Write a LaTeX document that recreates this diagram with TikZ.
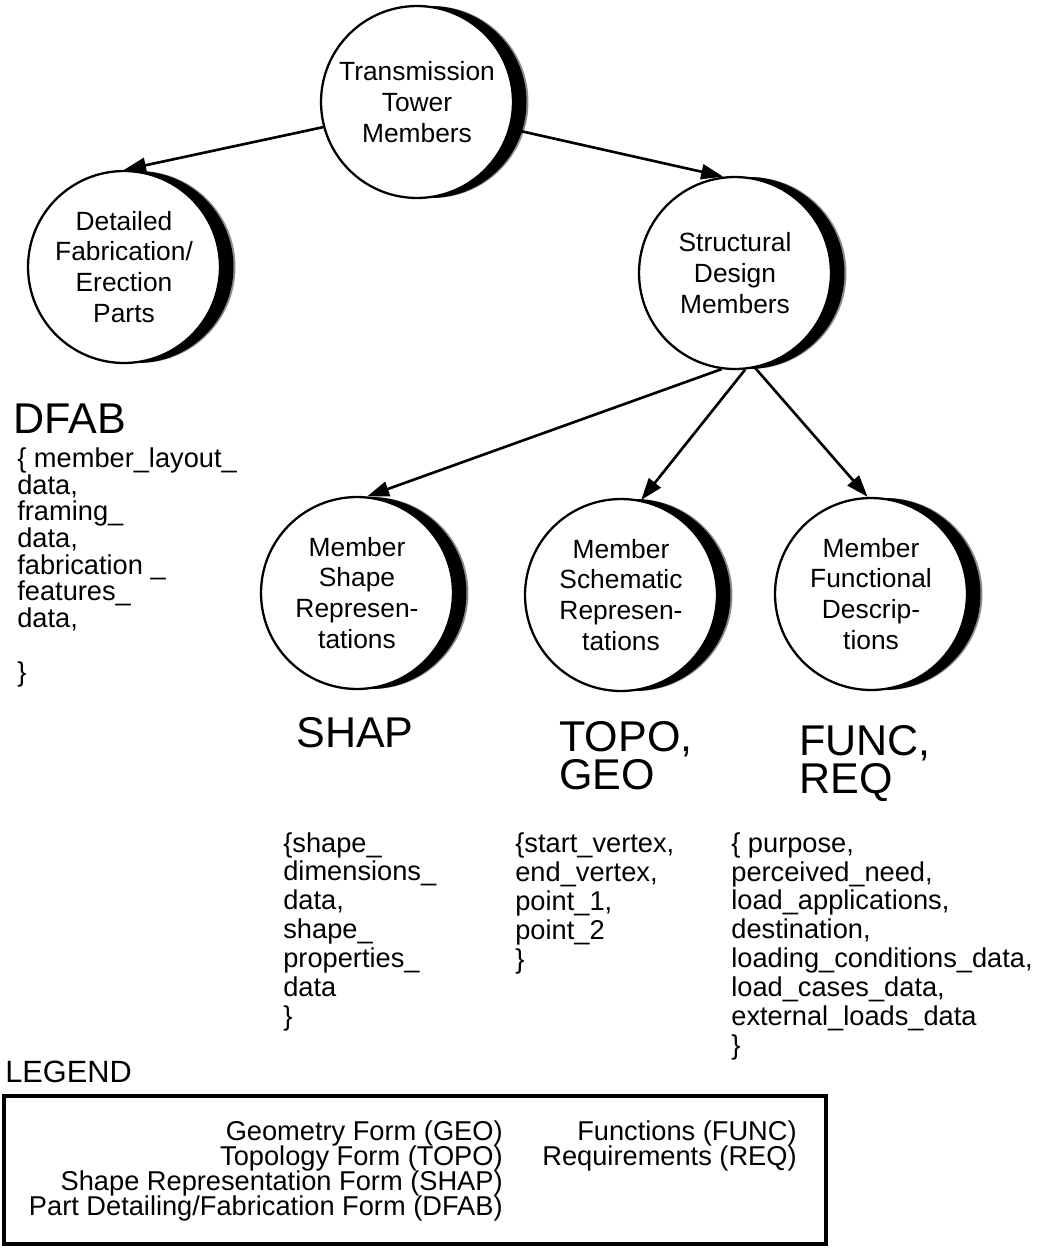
\documentclass[tikz,border=0pt]{standalone}
\usepackage{fontspec}
\setmainfont{Liberation Sans}
\usetikzlibrary{shadows}
\usetikzlibrary{arrows.meta}
\setlength{\lineskiplimit}{-20pt}

\begin{document}
\begin{tikzpicture}[x=0.02cm, y=-0.02cm,
  member/.style={circle, draw, line width=1.3pt, fill=white, minimum size=3.84cm, inner sep=0pt,
    align=center, font=\fontsize{15pt}{17.6pt}\selectfont,
    general shadow={fill=black!45, shadow xshift=0.31cm},
    general shadow={fill=black, shadow xshift=0.27cm}},
  link/.style={line width=1.5pt, -{Triangle[length=0.44cm, width=0.3cm]}},
  form/.style={anchor=base west, inner sep=0pt, align=left, font=\fontsize{24.5pt}{21.5pt}\selectfont},
  code/.style={anchor=base west, inner sep=0pt, align=left, font=\fontsize{15.5pt}{16.4pt}\selectfont},
  entry/.style={anchor=base east, inner sep=0pt, align=right, font=\fontsize{15.5pt}{14.2pt}\selectfont}]

\useasboundingbox (0,0) rectangle (1045,1258);

%I cerchi dei membri (con l'ombra a mezzaluna)
\node[member] (tower) at (417,102) {Transmission\\Tower\\Members};
\node[member] (dfab) at (124,267) {Detailed\\Fabrication/\\Erection\\Parts};
\node[member] (struct) at (735,273) {Structural\\Design\\Members};
\node[member] (shape) at (357,593) {Member\\Shape\\Represen-\\tations};
\node[member] (schem) at (621,595) {Member\\Schematic\\Represen-\\tations};
\node[member] (func) at (871,594) {Member\\Functional\\Descrip-\\tions};

%Le frecce
\draw[link] (tower.195) -- (dfab.north);
\draw[link] (tower.-16) -- (struct.97);
\draw[link] (struct.262) -- (shape.84);
\draw[link] (struct.276) -- (schem.78);
\draw[link] (struct.282) -- (func.92);

%Nomi delle forme (la base e' quella dell'ultima riga)
\node[form] (dfabname) at (13,433) {DFAB};
\node[form] (shapname) at (296,747) {SHAP};
\node[form] (toponame) at (559,789) {TOPO,\\GEO};
\node[form] (funcname) at (799,793) {FUNC,\\REQ};

%Liste dei dati
\node[code, font=\fontsize{15.5pt}{15.2pt}\selectfont] (dfabdata) at (17,681)
  {\{ member\_layout\_\\data,\\framing\_\\data,\\fabrication \_\\features\_\\data,\\[15.2pt]\}};
\node[code] (shapdata) at (283,1025)
  {\{shape\_\\dimensions\_\\data,\\shape\_\\properties\_\\data\\\}};
\node[code] (topodata) at (515,968)
  {\{start\_vertex,\\end\_vertex,\\point\_1,\\point\_2\\\}};
\node[code] (funcdata) at (731,1054)
  {\{ purpose,\\perceived\_need,\\load\_applications,\\destination,\\loading\_conditions\_data,\\load\_cases\_data,\\external\_loads\_data\\\}};

%Legenda
\node[anchor=base west, inner sep=0pt, font=\fontsize{17.5pt}{20pt}\selectfont] (legendtitle) at (5,1082) {LEGEND};
\node[draw, line width=2.6pt, minimum width=16.44cm, minimum height=2.96cm, inner sep=0pt] (legend) at (415,1170) {};
\node[entry] (leftcol) at (503,1215)
  {Geometry Form (GEO)\\Topology Form (TOPO)\\Shape Representation Form (SHAP)\\Part Detailing/Fabrication Form (DFAB)};
\node[entry] (rightcol) at (797,1165) {Functions (FUNC)\\Requirements (REQ)};

\end{tikzpicture}
\end{document}
